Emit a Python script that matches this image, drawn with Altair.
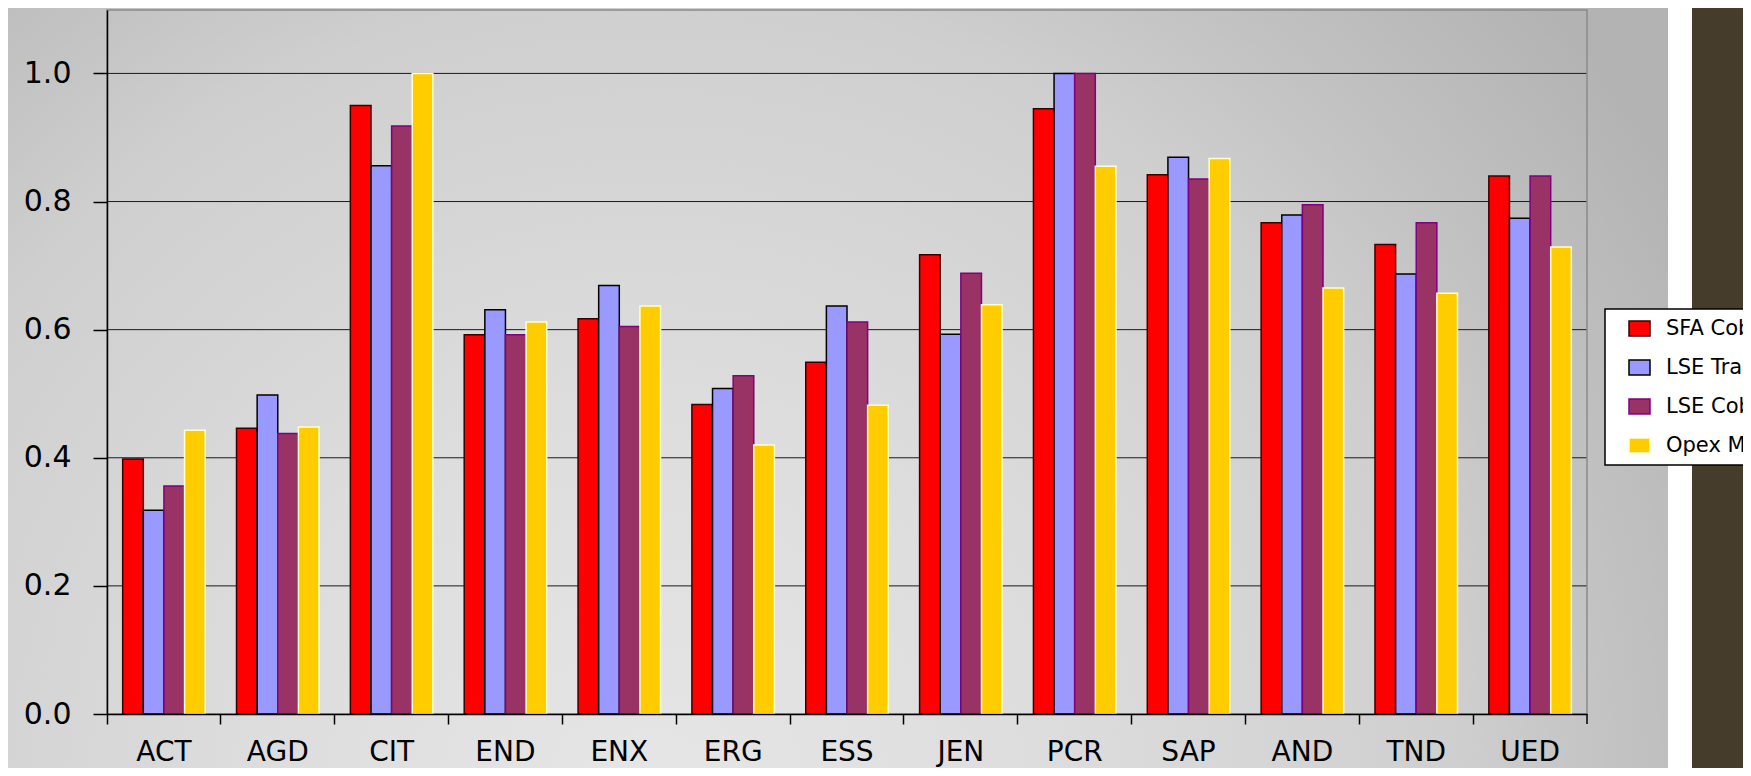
import altair as alt
import pandas as pd

categories = ["ACT", "AGD", "CIT", "END", "ENX", "ERG", "ESS", "JEN", "PCR", "SAP", "AND", "TND", "UED"]
series_names = ["SFA Cobb-Douglas", "LSE Translog", "LSE Cobb-Douglas", "Opex Model"]
sfa = [0.398, 0.446, 0.950, 0.592, 0.617, 0.483, 0.549, 0.717, 0.945, 0.842, 0.767, 0.733, 0.840]
lse_tl = [0.318, 0.498, 0.856, 0.631, 0.669, 0.508, 0.637, 0.593, 1.000, 0.869, 0.779, 0.687, 0.774]
lse_c = [0.356, 0.438, 0.918, 0.592, 0.605, 0.528, 0.612, 0.688, 1.000, 0.835, 0.795, 0.767, 0.840]
opex = [0.443, 0.448, 1.000, 0.612, 0.637, 0.420, 0.482, 0.639, 0.855, 0.867, 0.665, 0.657, 0.729]
y_ticks = [0.0, 0.2, 0.4, 0.6, 0.8, 1.0]
grid_vals = [0.2, 0.4, 0.6, 0.8, 1.0]

fill_colors = ["#FF0000", "#9999FF", "#993366", "#FFCC00"]
stroke_colors = ["#3a0000", "#000000", "#800080", "#FFFFCC"]

rows = []
for name, vals in zip(series_names, [sfa, lse_tl, lse_c, opex]):
    for c, v in zip(categories, vals):
        rows.append({"cat": c, "series": name, "value": v})
df = pd.DataFrame(rows)

W, H = 1480, 704
YMAX = 1.099
FONT = "DejaVu Sans"

# circular background shading (square box so the radial gradient stays round)
CX, CY, R = 543, 790, 1200
bg_grad = {
    "gradient": "radial",
    "x1": 0.5, "y1": 0.5, "r1": 0,
    "x2": 0.5, "y2": 0.5, "r2": 0.5,
    "stops": [
        {"offset": 0.0, "color": "#e6e6e6"},
        {"offset": 0.33, "color": "#dddddd"},
        {"offset": 0.5, "color": "#d6d6d6"},
        {"offset": 0.67, "color": "#cfcfcf"},
        {"offset": 0.8, "color": "#c3c3c3"},
        {"offset": 1.0, "color": "#b3b3b3"},
    ],
}

one = alt.Data(values=[{"a": 1}])

bg = alt.Chart(one).mark_rect(fill=bg_grad, strokeWidth=0).encode(
    x=alt.value(CX - R), x2=alt.value(CX + R), y=alt.value(CY - R), y2=alt.value(CY + R)
)
white_strip = alt.Chart(one).mark_rect(fill="white", strokeWidth=0).encode(
    x=alt.value(1561), x2=alt.value(1585), y=alt.value(-3), y2=alt.value(770)
)
brown = alt.Chart(one).mark_rect(fill="#463c2b", strokeWidth=0).encode(
    x=alt.value(1585), x2=alt.value(1650), y=alt.value(-3), y2=alt.value(770)
)

y_axis = alt.Axis(values=y_ticks, format=".1f", grid=False, tickSize=14, labelPadding=22,
                  labelFontSize=30,
                  domainColor="black", tickColor="black", domainWidth=1.5, tickWidth=1.5,
                  zindex=1)
y_scale = alt.Scale(domain=[0, YMAX], nice=False)

grid = alt.Chart(pd.DataFrame({"value": grid_vals})).mark_rule(color="#1a1a1a", strokeWidth=1).encode(
    y=alt.Y("value:Q", scale=y_scale, axis=y_axis, title=None),
    x=alt.value(0), x2=alt.value(W),
)

border = alt.Chart(one).mark_rect(fill="transparent", stroke="#8a8a8a", strokeWidth=1.5).encode(
    x=alt.value(0), x2=alt.value(W), y=alt.value(0), y2=alt.value(H)
)
end_tick = alt.Chart(one).mark_rule(color="black", strokeWidth=1.5).encode(
    x=alt.value(W), y=alt.value(H), y2=alt.value(H + 10)
)

bars = alt.Chart(df).mark_bar(strokeWidth=1.5).encode(
    x=alt.X("cat:N", sort=categories, title=None,
            scale=alt.Scale(paddingInner=0, paddingOuter=0),
            axis=alt.Axis(bandPosition=0, labelAngle=0, tickSize=10, labelPadding=14,
                          labelFontSize=28,
                          domainColor="black", tickColor="black", domainWidth=1.5, tickWidth=1.5,
                          zindex=1)),
    xOffset=alt.XOffset("series:N", sort=series_names,
                        scale=alt.Scale(paddingInner=0, paddingOuter=0.76)),
    y=alt.Y("value:Q", title=None, scale=y_scale, axis=y_axis),
    fill=alt.Fill("series:N", sort=series_names, title=None,
                  scale=alt.Scale(domain=series_names, range=fill_colors)),
    stroke=alt.Stroke("series:N", sort=series_names, title=None,
                      scale=alt.Scale(domain=series_names, range=stroke_colors)),
)

chart = alt.layer(bg, white_strip, brown, grid, border, end_tick, bars).properties(
    width=W, height=H,
    autosize=alt.AutoSizeParams(type="none"),
    padding={"left": 99, "top": 2, "right": 156, "bottom": 54},
    background="white",
).configure_view(stroke="transparent").configure_axis(
    labelFont=FONT, labelColor="black",
).configure_legend(
    orient="none", legendX=1498, legendY=299,
    fillColor="white", strokeColor="black", strokeWidth=1.5,
    padding=9, symbolType="M-1.4,-1H1.4V1H-1.4Z", symbolSize=225, symbolStrokeWidth=1.5,
    symbolOffset=15, labelOffset=16, rowPadding=17,
    labelFont=FONT, labelFontSize=21, labelColor="black", labelLimit=400,
)

chart.save("out.html", embed_options={"renderer": "svg", "actions": False})
